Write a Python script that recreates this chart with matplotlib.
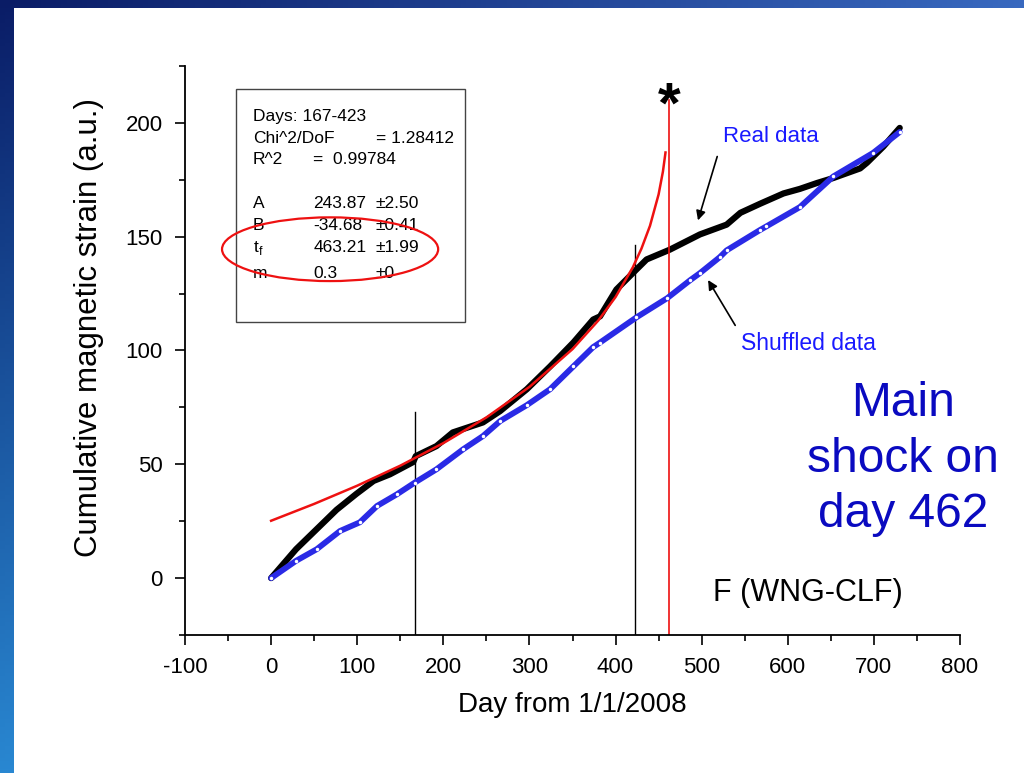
import numpy as np
import matplotlib
matplotlib.use("Agg")
import matplotlib.pyplot as plt
from matplotlib.patches import Rectangle, Ellipse
from matplotlib.ticker import MultipleLocator

plt.rcParams["font.family"] = ["Liberation Sans", "DejaVu Sans"]
plt.rcParams["axes.unicode_minus"] = False

# cumulative magnetic strain, real sequence
real_day = [0, 29, 57, 76, 99, 119, 138, 165, 168, 192, 211, 246, 266, 297, 324, 351,
            374, 382, 401, 424, 436, 463, 498, 529, 545, 568, 595, 614, 634, 653, 684,
            692, 711, 730]
real_val = [0, 12.7, 23, 30, 37, 42.7, 45.6, 51, 53.6, 58, 64, 68.4, 73.4, 83, 93, 103.5,
            113.6, 115, 126.8, 135.5, 140, 144.3, 151, 155.3, 160.5, 164.5, 169, 171, 173.6,
            175.8, 180, 182.5, 189.6, 197.8]

# shuffled sequence
shuf_day = [0, 29, 53, 80, 103, 123, 146, 167, 192, 223, 246, 266, 297, 324, 351, 374,
            382, 424, 460, 487, 498, 521, 529, 568, 575, 614, 653, 699, 730]
shuf_val = [0, 7.6, 12.7, 20.7, 24.5, 31.7, 36.8, 42, 47.8, 56.6, 62.4, 69, 76, 83, 93,
            101.5, 103.5, 114.5, 123, 131, 134, 141, 144, 153, 154.5, 163, 176.5, 186.8, 196]

# power-law fit over days 167-423
fit_day = [0, 50, 100, 150, 200, 250, 300, 350, 380, 400, 420, 430, 440, 450, 455, 458]
fit_val = [25.2, 32.6, 40.6, 49.4, 59.3, 70.6, 84.0, 100.6, 113.2, 123.5, 136.5, 144.7,
           154.8, 168.6, 178.6, 187.0]

fit_window = [167, 423]
main_shock = 462

fig = plt.figure(figsize=(10.24, 7.73), dpi=100)

# slide background: blue gradient border with a white panel
bg = fig.add_axes([0, 0, 1, 1])
t, s = np.mgrid[0:1:200j, 0:1:200j]
rgb = np.dstack([0.04 + 0.12 * t + 0.18 * s,
                 0.11 + 0.42 * t + 0.30 * s,
                 0.40 + 0.42 * t + 0.35 * s]).clip(0, 1)
bg.imshow(rgb, extent=[0, 1, 0, 1], aspect="auto", origin="upper")
bg.add_patch(Rectangle((14 / 1024, 0), 1, 1 - 8 / 773, facecolor="white", edgecolor="none"))
bg.set_xlim(0, 1); bg.set_ylim(0, 1)
bg.axis("off")

ax = fig.add_axes([185 / 1024, 1 - 635 / 773, 775 / 1024, 569 / 773])
ax.patch.set_alpha(0)
ax.set_xlim(-100, 800)
ax.set_ylim(-25, 225)

ax.plot(shuf_day, shuf_val, color="#2a2ae6", lw=4.2, solid_capstyle="round", zorder=3)
ax.plot(shuf_day, shuf_val, "o", ms=2.5, mfc="white", mec="none", zorder=4)
ax.plot(real_day, real_val, color="black", lw=4.5, solid_capstyle="round", zorder=2)
ax.plot(fit_day, fit_val, color="#ee1111", lw=1.8, zorder=5)

ax.plot([fit_window[0]] * 2, [-25, 73], color="black", lw=1)
ax.plot([fit_window[1]] * 2, [-25, 146.5], color="black", lw=1)
ax.plot([main_shock] * 2, [-25, 210], color="#ee1111", lw=1.2)
ax.text(main_shock, 195, "*", fontsize=42, fontweight="bold", ha="center", va="bottom")

for sp in ("top", "right"):
    ax.spines[sp].set_visible(False)
for sp in ("left", "bottom"):
    ax.spines[sp].set_linewidth(1.3)
ax.xaxis.set_major_locator(MultipleLocator(100))
ax.xaxis.set_minor_locator(MultipleLocator(50))
ax.yaxis.set_major_locator(MultipleLocator(50))
ax.yaxis.set_minor_locator(MultipleLocator(25))
ax.tick_params(which="major", direction="out", length=7, width=1.2, labelsize=16)
ax.tick_params(axis="x", which="major", pad=9)
ax.tick_params(axis="y", which="major", pad=9)
ax.tick_params(which="minor", direction="out", length=4, width=1.2)
ax.set_xlabel("Day from 1/1/2008", fontsize=20, labelpad=10)
ax.set_ylabel("Cumulative magnetic strain (a.u.)", fontsize=22.5)
ax.yaxis.set_label_coords(-0.105, 0.541)

# fit results box
ax.add_patch(Rectangle((-41, 112.7), 266, 102.2, facecolor="white", edgecolor="#444444",
                       lw=1, zorder=6))
fs = 12.5
rows = [("A", "243.87", "\u00b12.50", 164.4), ("B", "-34.68", "\u00b10.41", 154.8),
        (r"t$_\mathregular{f}$", "463.21", "\u00b11.99", 145.2), ("m", "0.3", "\u00b10", 133.8)]
ax.text(-21, 202.8, "Days: 167-423", fontsize=fs, va="center", zorder=7)
ax.text(-21, 193.1, "Chi^2/DoF", fontsize=fs, va="center", zorder=7)
ax.text(122, 193.1, "= 1.28412", fontsize=fs, va="center", zorder=7)
ax.text(-21, 183.8, "R^2", fontsize=fs, va="center", zorder=7)
ax.text(49, 183.8, "=  0.99784", fontsize=fs, va="center", zorder=7)
for name, val, err, y in rows:
    ax.text(-21, y, name, fontsize=fs, va="center", zorder=7)
    ax.text(49, y, val, fontsize=fs, va="center", zorder=7)
    ax.text(121, y, err, fontsize=fs, va="center", zorder=7)
ax.add_patch(Ellipse((68.5, 144.5), 251, 28, facecolor="none", edgecolor="#ee1111",
                     lw=1.6, zorder=8, clip_on=False))

# annotations
ax.annotate("", xy=(494.8, 156.0), xytext=(519, 186.4),
            arrowprops=dict(arrowstyle="-|>", color="black", lw=1.2, mutation_scale=14))
ax.text(580, 194, "Real data", color="#1a1aff", fontsize=16, ha="center", va="center")
ax.annotate("", xy=(505.8, 132), xytext=(540.6, 110),
            arrowprops=dict(arrowstyle="-|>", color="black", lw=1.2, mutation_scale=14))
ax.text(624, 103, "Shuffled data", color="#1a1aff", fontsize=16.5, ha="center", va="center")
ax.text(734, 52.3, "Main\nshock on\nday 462", color="#0a0ac0", fontsize=34.5, ha="center",
        va="center", linespacing=1.3)
ax.text(623, -6.5, "F (WNG-CLF)", color="black", fontsize=22, ha="center", va="center")

fig.savefig("out.png", dpi=100)
